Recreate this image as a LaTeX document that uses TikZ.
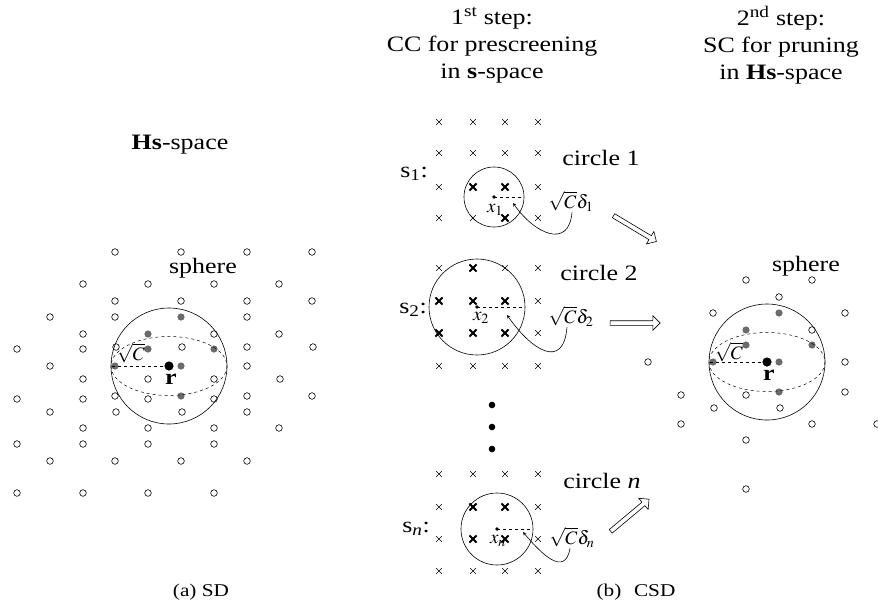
\documentclass[tikz,border=0pt]{standalone}
\usepackage{mathptmx}
\usepackage{fontspec}
\setmainfont[FakeStretch=1.18]{Liberation Serif}
\usetikzlibrary{positioning}
\usetikzlibrary{arrows}
\usetikzlibrary{shapes.arrows}
\definecolor{hitgray}{rgb}{0.42,0.42,0.42}

% lattice points of the Hs-space (pixel grid)
\def\latopen{115/252,181/252,247/252,312/252,
  83/284,148/284,214/284,279/284,
  115/301,181/301,247/301,312/301,
  50/317,115/317,247/317,
  83/334,214/334,279/334,
  17/349,83/349,116/347,182/347,247/347,313/347,
  50/366,247/366,
  83/379,148/379,214/379,280/379,
  115/396,247/396,312/396,17/399,83/399,148/399,214/399,
  50/412,116/412,182/412,247/412,
  83/428,148/428,214/428,279/428,
  17/444,83/444,148/444,214/444,
  50/461,115/461,181/461,247/461,
  17/493,83/493,148/493,214/493}
\def\latkept{148/284,214/284,181/301,115/317,247/317,214/334,
  50/366,247/366,83/399,148/399,247/396,116/412,182/412,
  83/428,214/428,279/428,148/444,148/493}
\def\lathit{181/317,148/334,148/349,214/349,115/366,181/366,181/396}

\begin{document}
\begin{tikzpicture}[
            x = 1pt, y = -1pt, % pixel grid, y pointing down
            > = stealth, % arrow head style
            font = \fontsize{22}{27}\selectfont,
            line width = 0.6pt
        ]

        \tikzstyle{small}=[font = \fontsize{19}{21}\selectfont, inner sep = 1pt]
        \tikzstyle{subcaption}=[font = \fontsize{18}{20}\selectfont]
        \tikzstyle{go}=[
            draw,
            single arrow,
            single arrow head extend = 5pt,
            single arrow head indent = 0pt,
            minimum height = 50pt,
            inner sep = 2pt
        ]
        \tikzset{
            xthin/.pic = {\draw[line width = 0.5pt] (-2.8,-2.8) -- (2.8,2.8) (-2.8,2.8) -- (2.8,-2.8);},
            xbold/.pic = {\draw[line width = 1.8pt] (-3.6,-3.6) -- (3.6,3.6) (-3.6,3.6) -- (3.6,-3.6);}
        }

        \useasboundingbox (0,0) rectangle (878,603);

	% (a) SD
        \node (HsL) at (180,145) {\textbf{Hs}-space};
        \foreach \px/\py in \latopen
            \draw (\px,\py) circle (3.3);
        \foreach \px/\py in \lathit
            \fill[hitgray] (\px,\py) circle (3.6);
        \coordinate (cL) at (169,366);
        \draw (cL) circle (58);
        \draw[dashed, line width = 0.5pt] (cL) ellipse (58 and 29.5);
        \draw[dashed] (cL) -- ++(-58,0);
        \fill (cL) circle (4.6);
        \node (rL) at (171,379) {\textbf{r}};
        \node[small] (sqL) at (131,353) {$\sqrt{C}$};
        \node (sphL) at (203,268) {sphere};
        \node[subcaption] (capA) at (201,592) {(a) SD};

        % (b) CSD, 1st step
        \node[align = center] (st1) at (492,45) {1\textsuperscript{st} step:\\CC for prescreening\\in \textbf{s}-space};

        % s_1
        \foreach \cy in {122,153,187,218}
            \foreach \cx in {439,473,505,538}
                \pic at (\cx,\cy) {xthin};
        \foreach \cx/\cy in {473/187,505/187,505/218}
            \pic at (\cx,\cy) {xbold};
        \coordinate (x1) at (494,197);
        \draw (x1) circle (30);
        \draw[dashed] (x1) -- ++(30,0);
        \fill (x1) circle (1.8);
        \node[small] (xl1) at (495,210) {$x_1$};
        \node (s1) at (414,174) {s\textsubscript{1}:};
        \node (c1) at (601,158) {circle 1};
        \node[small] (d1) at (571,201) {$\sqrt{C}\delta_1$};
        \coordinate (t1) at (513,203);
        \draw[->] ([xshift = 1pt]d1.south) to[out = -95, in = -55, looseness = 1.6] (t1);

        % s_2
        \foreach \cy in {268,301,333,366}
            \foreach \cx in {439,473,505,538}
                \pic at (\cx,\cy) {xthin};
        \foreach \cx/\cy in {473/268,439/301,473/301,505/301,439/333,473/333,505/333}
            \pic at (\cx,\cy) {xbold};
        \coordinate (x2) at (477,307);
        \draw (x2) circle (48);
        \draw[dashed] (x2) -- ++(48,0);
        \fill (x2) circle (1.8);
        \node[small] (xl2) at (481,318) {$x_2$};
        \node (s2) at (413,310) {s\textsubscript{2}:};
        \node (c2) at (599,273) {circle 2};
        \node[small] (d2) at (571,316) {$\sqrt{C}\delta_2$};
        \coordinate (t2) at (507,315);
        \draw[->] ([xshift = -4pt]d2.south) to[out = -95, in = -55, looseness = 1.8] (t2);

        % vertical dots
        \foreach \dy [count = \i] in {405,427,449}
            \fill (492,\dy) circle (3.3) coordinate (dot\i);

        % s_n
        \foreach \cy in {474,507,539,571}
            \foreach \cx in {439,473,505,538}
                \pic at (\cx,\cy) {xthin};
        \foreach \cx/\cy in {473/507,505/507,473/539,505/539}
            \pic at (\cx,\cy) {xbold};
        \coordinate (xn) at (497,529);
        \draw (xn) circle (36);
        \draw[dashed] (xn) -- ++(36,0);
        \fill (xn) circle (1.8);
        \node[small] (xln) at (498,541) {$x_n$};
        \node (sn) at (416,529) {s\textsubscript{\textit{n}}:};
        \node (cn) at (602,481) {circle \textit{n}};
        \node[small] (dn) at (572,537) {$\sqrt{C}\delta_n$};
        \coordinate (tn) at (523,532);
        \draw[->] ([xshift = -2pt]dn.south) to[out = -100, in = -50, looseness = 1.5] (tn);

        \node[subcaption] (capB) at (636,592) {(b)\hspace{0.7em}CSD};

        % block arrows into the 2nd step
        \node[go, rotate = -31] (go1) at (634,228) {};
        \node[go] (go2) at (634,323) {};
        \node[go, rotate = 40] (go3) at (629,516) {};

        % 2nd step
        \node[align = center] (st2) at (781,45) {2\textsuperscript{nd} step:\\SC for pruning\\in \textbf{Hs}-space};
        \begin{scope}[shift = {(598,-4)}]
            \foreach \px/\py in \latkept
                \draw (\px,\py) circle (3.3);
            \foreach \px/\py in \lathit
                \fill[hitgray] (\px,\py) circle (3.6);
            \coordinate (cR) at (169,366);
            \draw (cR) circle (58);
            \draw[dashed, line width = 0.5pt] (cR) ellipse (58 and 29.5);
            \draw[dashed] (cR) -- ++(-58,0);
            \fill (cR) circle (4.6);
            \node (rR) at (171,379) {\textbf{r}};
            \node[small] (sqR) at (131,356) {$\sqrt{C}$};
            \node (sphR) at (208,270) {sphere};
        \end{scope}

  \end{tikzpicture}
\end{document}
